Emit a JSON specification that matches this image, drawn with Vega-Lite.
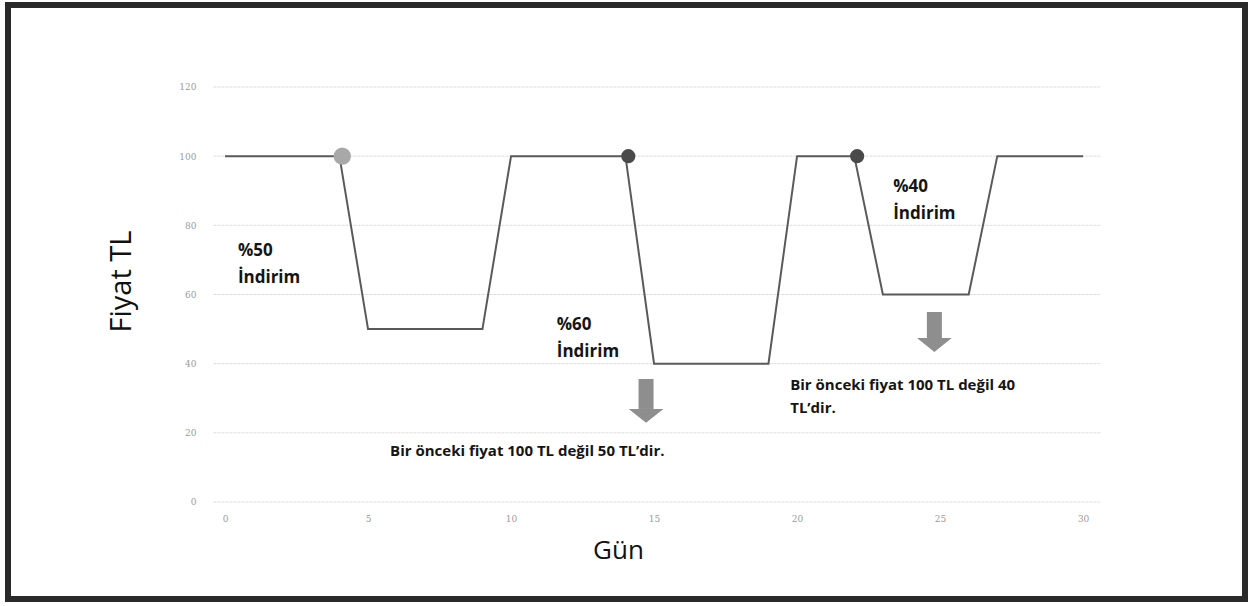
{
  "$schema": "https://vega.github.io/schema/vega-lite/v6.json",
  "width": 1237,
  "height": 594,
  "autosize": "none",
  "padding": {"left": 8, "top": 5, "right": 5, "bottom": 7},
  "background": "white",
  "config": {
    "view": {"stroke": "#2a2a2a", "strokeWidth": 6},
    "font": "Open Sans"
  },
  "datasets": {
    "price": [
      {"Gun": 0, "Fiyat": 100},
      {"Gun": 4, "Fiyat": 100},
      {"Gun": 5, "Fiyat": 50},
      {"Gun": 9, "Fiyat": 50},
      {"Gun": 10, "Fiyat": 100},
      {"Gun": 14, "Fiyat": 100},
      {"Gun": 15, "Fiyat": 40},
      {"Gun": 19, "Fiyat": 40},
      {"Gun": 20, "Fiyat": 100},
      {"Gun": 22, "Fiyat": 100},
      {"Gun": 23, "Fiyat": 60},
      {"Gun": 26, "Fiyat": 60},
      {"Gun": 27, "Fiyat": 100},
      {"Gun": 30, "Fiyat": 100}
    ],
    "marks": [
      {"Gun": 4.1, "Fiyat": 100, "kind": "ilk"},
      {"Gun": 14.1, "Fiyat": 100, "kind": "sonraki"},
      {"Gun": 22.1, "Fiyat": 100, "kind": "sonraki"}
    ],
    "grid": [
      {"Fiyat": 0}, {"Fiyat": 20}, {"Fiyat": 40}, {"Fiyat": 60}, {"Fiyat": 80}, {"Fiyat": 100}, {"Fiyat": 120}
    ],
    "labels": [
      {"Gun": 0.45, "Fiyat": 72.6, "t": "%50"},
      {"Gun": 0.45, "Fiyat": 64.8, "t": "İndirim"},
      {"Gun": 11.6, "Fiyat": 51.2, "t": "%60"},
      {"Gun": 11.6, "Fiyat": 43.4, "t": "İndirim"},
      {"Gun": 23.36, "Fiyat": 91.1, "t": "%40"},
      {"Gun": 23.36, "Fiyat": 83.3, "t": "İndirim"}
    ],
    "notes": [
      {"Gun": 5.77, "Fiyat": 14.7, "t": "Bir önceki fiyat 100 TL değil 50 TL’dir."},
      {"Gun": 19.76, "Fiyat": 33.8, "t": "Bir önceki fiyat 100 TL değil 40"},
      {"Gun": 19.76, "Fiyat": 27.2, "t": "TL’dir."}
    ],
    "arrows": [
      {"Gun": 14.72, "top": 35.57, "bot": 26.9},
      {"Gun": 24.8, "top": 54.94, "bot": 47.4}
    ]
  },
  "layer": [
    {
      "data": {"name": "grid"},
      "mark": {"type": "rule", "color": "#dcdcdc", "strokeWidth": 1, "strokeDash": [3, 1]},
      "encoding": {
        "y": {
          "field": "Fiyat", "type": "quantitative",
          "scale": {"domain": [-28.05, 143.71], "nice": false, "zero": false},
          "axis": {
            "values": [0, 20, 40, 60, 80, 100, 120],
            "domain": false, "ticks": false, "grid": false,
            "offset": -192, "labelPadding": 4,
            "labelFontSize": 9, "labelColor": "#9a9a9a", "labelFont": "DejaVu Serif",
            "title": "Fiyat TL", "titleFontSize": 29, "titleFontWeight": "normal",
            "titleColor": "#111", "titleFont": "Open Sans", "titlePadding": 42, "titleY": 276
          }
        },
        "x": {"datum": -0.4, "type": "quantitative"},
        "x2": {"datum": 30.6}
      }
    },
    {
      "data": {"name": "price"},
      "mark": {"type": "line", "color": "#5a5a5a", "strokeWidth": 2},
      "encoding": {
        "x": {
          "field": "Gun", "type": "quantitative",
          "scale": {"domain": [-7.587, 35.66], "nice": false, "zero": false},
          "axis": {
            "values": [0, 5, 10, 15, 20, 25, 30],
            "domain": false, "ticks": false, "grid": false,
            "offset": -93, "labelPadding": 8,
            "labelFontSize": 9, "labelColor": "#9a9a9a", "labelFont": "DejaVu Serif",
            "title": "Gün", "titleFontSize": 26, "titleFontWeight": "normal",
            "titleColor": "#111", "titleFont": "Open Sans", "titlePadding": 14, "titleX": 610
          }
        },
        "y": {
          "field": "Fiyat", "type": "quantitative",
          "scale": {"domain": [-28.05, 143.71], "nice": false, "zero": false},
          "axis": {
            "values": [0, 20, 40, 60, 80, 100, 120],
            "domain": false, "ticks": false, "grid": false,
            "offset": -192, "labelPadding": 4,
            "labelFontSize": 9, "labelColor": "#9a9a9a", "labelFont": "DejaVu Serif",
            "title": "Fiyat TL", "titleFontSize": 29, "titleFontWeight": "normal",
            "titleColor": "#111", "titleFont": "Open Sans", "titlePadding": 42, "titleY": 276
          }
        }
      }
    },
    {
      "data": {"name": "marks"},
      "mark": {"type": "point", "filled": true, "opacity": 1},
      "encoding": {
        "x": {"field": "Gun", "type": "quantitative"},
        "y": {"field": "Fiyat", "type": "quantitative"},
        "color": {"field": "kind", "type": "nominal", "scale": {"domain": ["ilk", "sonraki"], "range": ["#a8a8a8", "#4a4a4a"]}, "legend": null},
        "size": {"field": "kind", "type": "nominal", "scale": {"domain": ["ilk", "sonraki"], "range": [300, 200]}, "legend": null}
      }
    },
    {
      "data": {"name": "arrows"},
      "mark": {"type": "rule", "color": "#8e8e8e", "strokeWidth": 15},
      "encoding": {
        "x": {"field": "Gun", "type": "quantitative"},
        "y": {"field": "top", "type": "quantitative"},
        "y2": {"field": "bot"}
      }
    },
    {
      "data": {"name": "arrows"},
      "mark": {"type": "point", "filled": true, "opacity": 1, "color": "#8e8e8e", "shape": "M-1,0L1,0L0,0.8Z", "size": 1200},
      "encoding": {
        "x": {"field": "Gun", "type": "quantitative"},
        "y": {"field": "bot", "type": "quantitative"}
      }
    },
    {
      "data": {"name": "labels"},
      "mark": {"type": "text", "align": "left", "baseline": "middle", "fontSize": 17, "fontWeight": "bold", "color": "#151515", "font": "Open Sans"},
      "encoding": {
        "x": {"field": "Gun", "type": "quantitative"},
        "y": {"field": "Fiyat", "type": "quantitative"},
        "text": {"field": "t"}
      }
    },
    {
      "data": {"name": "notes"},
      "mark": {"type": "text", "align": "left", "baseline": "middle", "fontSize": 15, "fontWeight": "bold", "color": "#151515", "font": "Open Sans"},
      "encoding": {
        "x": {"field": "Gun", "type": "quantitative"},
        "y": {"field": "Fiyat", "type": "quantitative"},
        "text": {"field": "t"}
      }
    }
  ]
}
